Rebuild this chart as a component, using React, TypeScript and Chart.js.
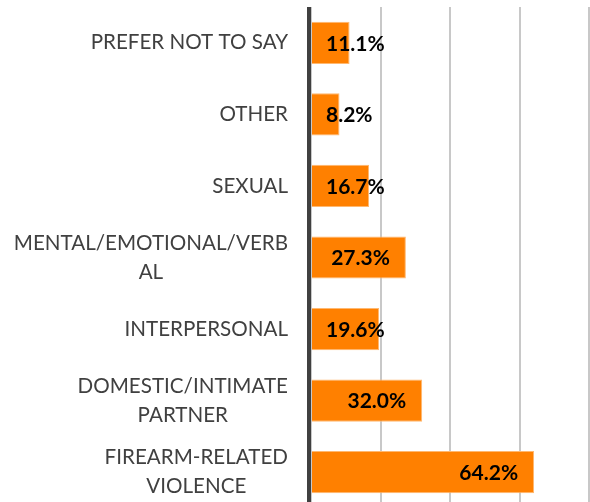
import React, { useEffect, useRef } from "react";
import { Chart, registerables } from "chart.js";

Chart.register(...registerables);

const categories: string[][] = [
  ["PREFER NOT TO SAY"],
  ["OTHER"],
  ["SEXUAL"],
  ["MENTAL/EMOTIONAL/VERB", "AL"],
  ["INTERPERSONAL"],
  ["DOMESTIC/INTIMATE", "PARTNER"],
  ["FIREARM-RELATED", "VIOLENCE"],
];
const values: number[] = [11.1, 8.2, 16.7, 27.3, 19.6, 32.0, 64.2];
const valueLabels: string[] = ["11.1%", "8.2%", "16.7%", "27.3%", "19.6%", "32.0%", "64.2%"];
const xMax = 80;
const xStep = 20;

const labelPlugin = {
  id: "customLabels",
  beforeDatasetsDraw(chart: any) {
    const { ctx, chartArea } = chart;
    ctx.save();
    // vertical axis line
    ctx.fillStyle = "#404040";
    ctx.fillRect(chartArea.left - 4, chartArea.top, 4, chartArea.bottom - chartArea.top);
    // category labels
    const yScale = chart.scales.y;
    ctx.font = "20.6px Lato";
    ctx.fillStyle = "#404040";
    ctx.textBaseline = "middle";
    ctx.textAlign = "center";
    const lineH = 29;
    const rightEdge = chartArea.left - 23;
    categories.forEach((lines, i) => {
      const cy = yScale.getPixelForValue(i);
      const widest = Math.max(...lines.map((l) => ctx.measureText(l).width));
      const cx = rightEdge - widest / 2;
      const y0 = cy - ((lines.length - 1) * lineH) / 2;
      lines.forEach((l, j) => ctx.fillText(l, cx, y0 + j * lineH));
    });
    ctx.restore();
  },
  afterDatasetsDraw(chart: any) {
    const { ctx, chartArea } = chart;
    const meta = chart.getDatasetMeta(0);
    ctx.save();
    ctx.font = "bold 21px Lato";
    ctx.fillStyle = "#000000";
    ctx.textBaseline = "middle";
    ctx.textAlign = "left";
    meta.data.forEach((bar: any, i: number) => {
      const t = valueLabels[i];
      const w = ctx.measureText(t).width;
      const left = Math.max(bar.x - 16 - w, chartArea.left + 15);
      ctx.fillText(t, left, bar.y + 1);
    });
    ctx.restore();
  },
};

export default function App() {
  const ref = useRef<HTMLCanvasElement | null>(null);
  useEffect(() => {
    if (!ref.current) return;
    const chart = new Chart(ref.current, {
      type: "bar",
      data: {
        labels: categories.map((c) => c.join("")),
        datasets: [
          {
            data: values,
            backgroundColor: "#FF8000",
            borderColor: "#FFB870",
            borderWidth: 1,
            borderSkipped: "start",
            barPercentage: 0.59,
            categoryPercentage: 1,
          },
        ],
      },
      options: {
        indexAxis: "y",
        responsive: false,
        animation: false,
        layout: { padding: { top: 7, bottom: 2, right: 1, left: 0 } },
        plugins: { legend: { display: false }, tooltip: { enabled: false } },
        scales: {
          x: {
            min: 0,
            max: xMax,
            ticks: { display: false, stepSize: xStep },
            grid: { color: "#c8c8c8", lineWidth: 2, drawTicks: false },
            border: { display: false },
          },
          y: {
            ticks: { display: false },
            grid: { display: false, drawTicks: false },
            border: { display: false },
            afterFit: (s: any) => {
              s.width = 311;
            },
          },
        },
      },
      plugins: [labelPlugin],
    });
    return () => chart.destroy();
  }, []);
  return (
    <div
      style={{
        position: "fixed",
        left: 0,
        top: 0,
        width: 590,
        height: 502,
        overflow: "hidden",
        background: "#ffffff",
      }}
    >
      <canvas ref={ref} width={590} height={510} style={{ display: "block" }} />
    </div>
  );
}
